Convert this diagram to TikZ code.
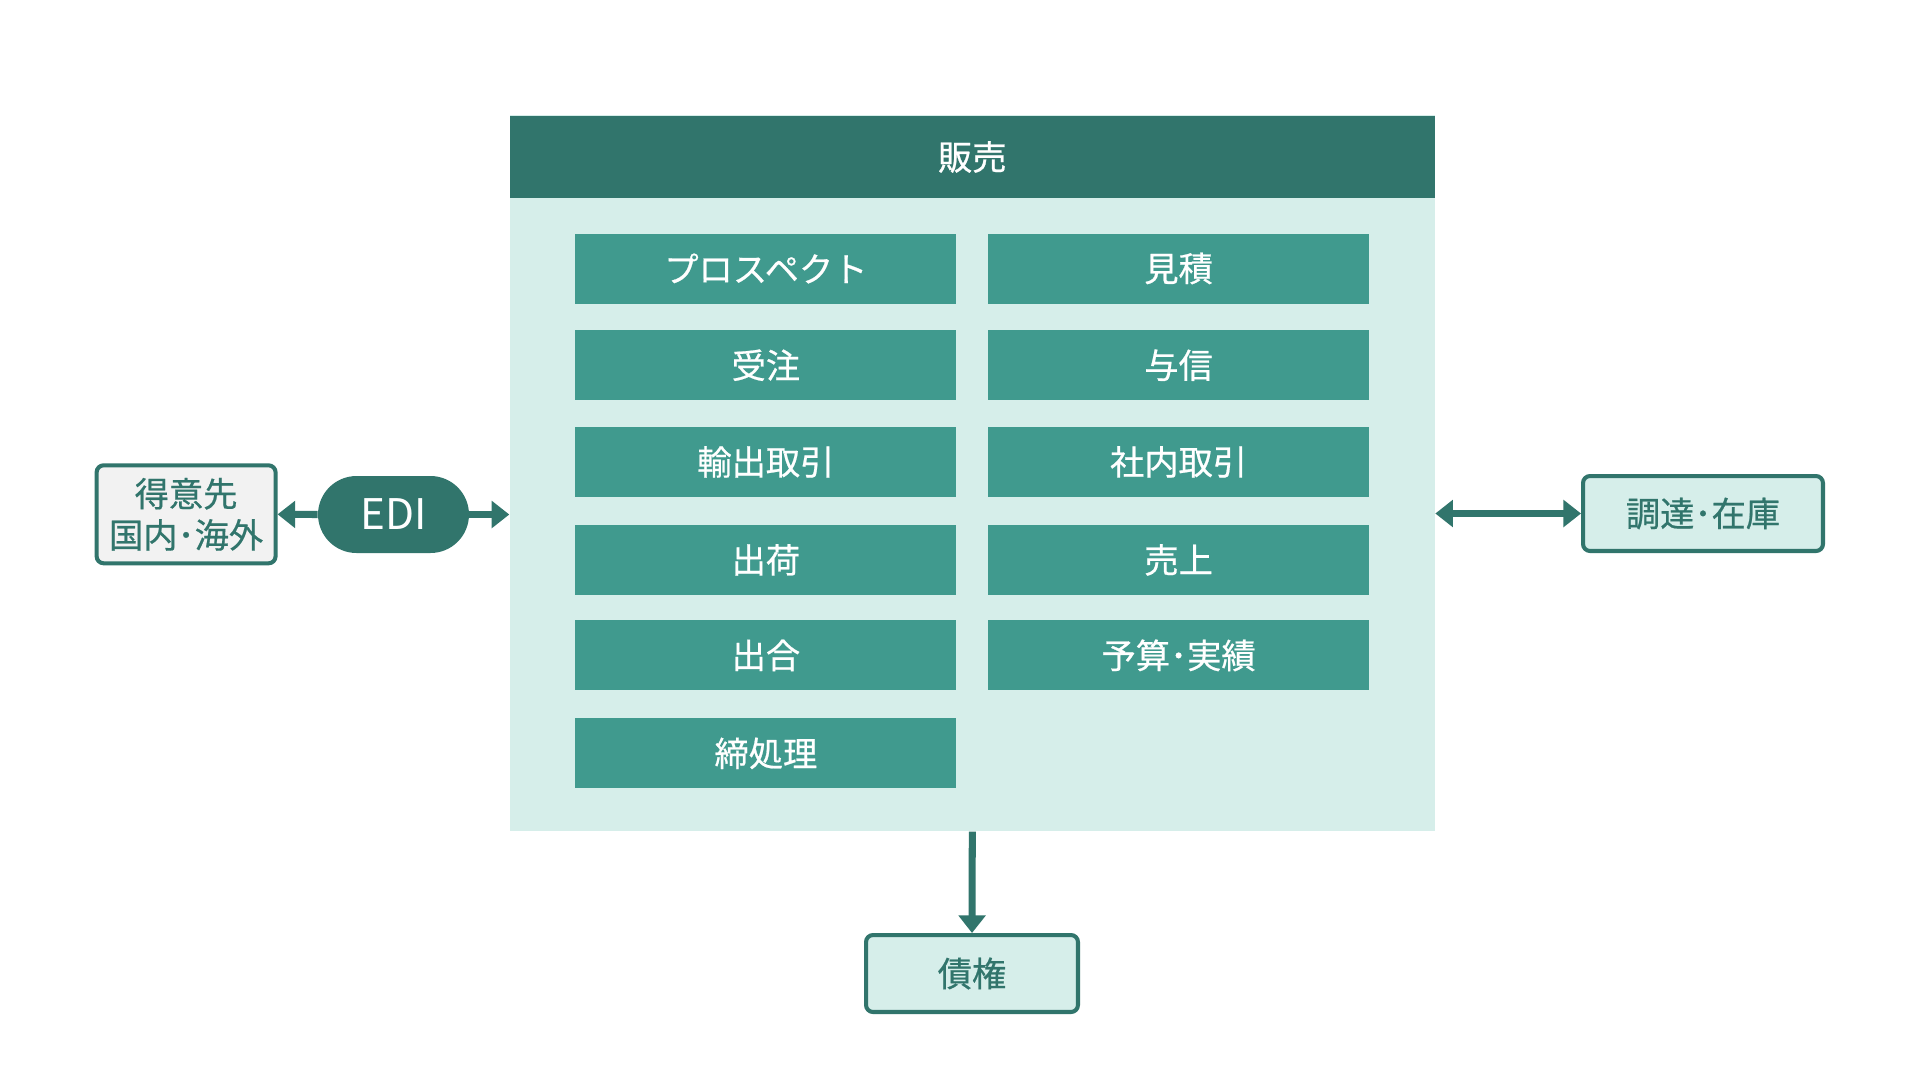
\documentclass[tikz,border=0pt]{standalone}
\usepackage{fontspec}
\setmainfont{Noto Sans CJK JP}[BoldFont={Noto Sans CJK JP},BoldFeatures={FakeBold=0.6}]
\usepackage{tikz}
\usetikzlibrary{arrows.meta}
\usepackage{xcolor}
\definecolor{darkteal}{RGB}{49,117,108}
\definecolor{midteal}{RGB}{64,154,142}
\definecolor{paleteal}{RGB}{214,238,234}
\definecolor{palegray}{RGB}{242,242,242}
\newcommand{\jpfont}{\fontsize{19.5}{23.5}\selectfont}

\begin{document}
\begin{tikzpicture}[x=0.02cm,y=-0.02cm,>={Triangle[width=15pt,length=10pt]}]
    \tikzstyle{cell}=[fill=midteal,text=white,font=\jpfont\bfseries,inner sep=0pt,minimum width=7.62cm,minimum height=1.40cm]
    \tikzstyle{ext}=[draw=darkteal,line width=2.3pt,rounded corners=4pt,text=darkteal,font=\jpfont\bfseries,inner sep=0pt,align=center]
    \tikzstyle{link}=[draw=darkteal,line width=4pt]
    \fill[white] (0,0) rectangle (1920,1080);
    \node (body)[fill=paleteal,inner sep=0pt,minimum width=18.51cm,minimum height=14.32cm] at (972.3,473.3) {};
    \node (head)[fill=darkteal,text=white,font=\jpfont\bfseries,inner sep=0pt,minimum width=18.51cm,minimum height=1.64cm] at (972.3,157) {販売};
    \node (prospect)[cell] at (765.9,268.5) {プロスペクト};
    \node (quote)[cell]    at (1178.6,268.5) {見積};
    \node (order)[cell]    at (765.9,365.2) {受注};
    \node (credit)[cell]   at (1178.6,365.2) {与信};
    \node (export)[cell]   at (765.9,461.9) {輸出取引};
    \node (intra)[cell]    at (1178.6,461.9) {社内取引};
    \node (ship)[cell]     at (765.9,559.9) {出荷};
    \node (sale)[cell]     at (1178.6,559.9) {売上};
    \node (match)[cell]    at (765.9,655.4) {出合};
    \node (budget)[cell]   at (1178.6,655.4) {予算･実績};
    \node (closing)[cell]  at (765.9,753.4) {締処理};

    \node (client)[ext,fill=palegray,minimum width=3.58cm,minimum height=1.96cm] at (186.1,514.3) {得意先\\国内･海外};
    \node (edi)[fill=darkteal,text=white,font=\fontsize{24}{28}\selectfont,rounded corners=0.77cm,inner sep=0pt,minimum width=3.02cm,minimum height=1.54cm] at (393.5,514.5) {EDI};
    \node (stock)[ext,fill=paleteal,minimum width=4.8cm,minimum height=1.5cm] at (1703,513.5) {調達･在庫};
    \node (claim)[ext,fill=paleteal,minimum width=4.24cm,minimum height=1.54cm] at (972,973.5) {債権};
    \draw[link,->]  (edi.east) -- (edi -| body.west);
    \draw[link,->]  (edi.west) -- (client.east);
    \draw[link,<->] (body.east |- stock) -- (stock.west);
    \draw[link,->]  (body.south) -- (claim.north);
\end{tikzpicture}
\end{document}
